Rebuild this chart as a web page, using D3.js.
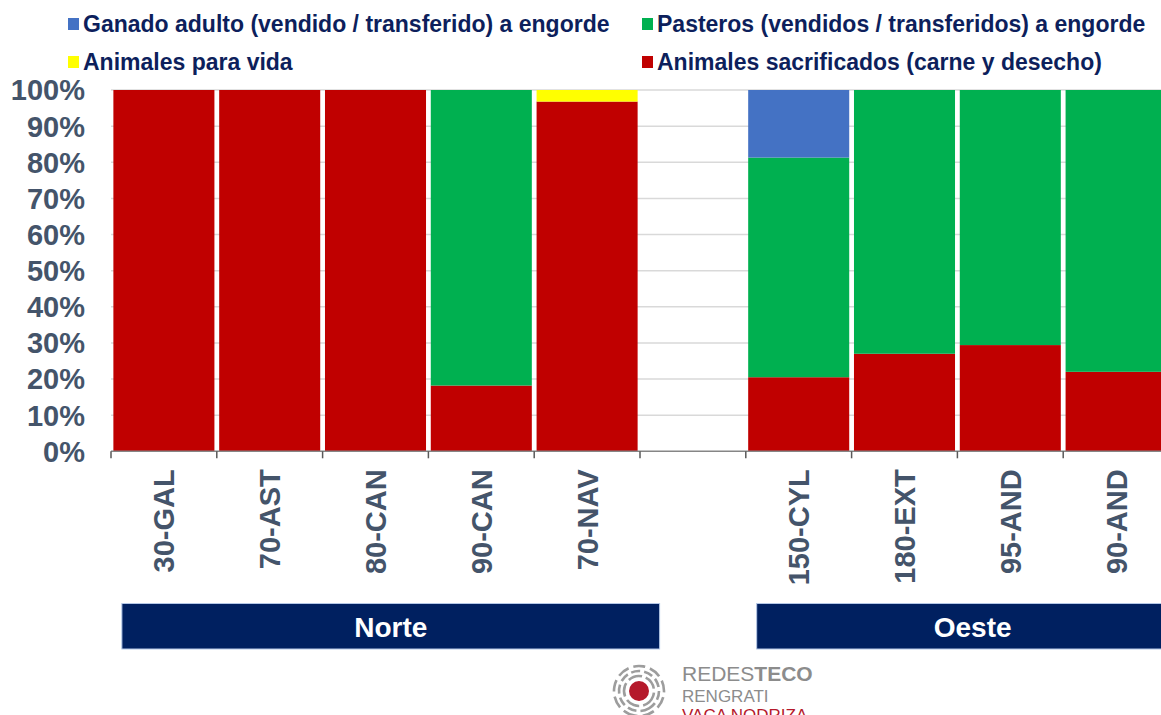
<!DOCTYPE html>
<html>
<head>
<meta charset="utf-8">
<script src="https://cdn.jsdelivr.net/npm/d3@7"></script>
<style>
  body { margin: 0; background: #fff; }
  svg { display: block; font-family: "Liberation Sans", Arial, sans-serif; }
</style>
</head>
<body>
<div id="chart"></div>
<script>
// categories (blank slot separates the two regions)
const categories = ["30-GAL", "70-AST", "80-CAN", "90-CAN", "70-NAV", "", "150-CYL", "180-EXT", "95-AND", "90-AND"];
const slotIds = categories.map((c, i) => "s" + i);

// series, share of animals (%)
const seriesNames = [
    "Animales sacrificados (carne y desecho)",
    "Pasteros (vendidos / transferidos) a engorde",
    "Ganado adulto (vendido / transferido) a engorde",
    "Animales para vida"
];
const sacrificados = [100, 100, 100, 18.2, 96.8, 0, 20.5, 27.0, 29.4, 22.0];
const pasteros     = [0, 0, 0, 81.8, 0, 0, 60.8, 73.0, 70.6, 78.0];
const ganadoAdulto = [0, 0, 0, 0, 0, 0, 18.7, 0, 0, 0];
const paraVida     = [0, 0, 0, 0, 3.2, 0, 0, 0, 0, 0];

const yTicks = [0, 10, 20, 30, 40, 50, 60, 70, 80, 90, 100];

const groups = [
    {name: "Norte", first: 0, last: 4},
    {name: "Oeste", first: 6, last: 9}
];

const colors = {
    "Animales sacrificados (carne y desecho)": "#c00000",
    "Pasteros (vendidos / transferidos) a engorde": "#00b050",
    "Ganado adulto (vendido / transferido) a engorde": "#4472c4",
    "Animales para vida": "#ffff00"
};

const width = 1161, height = 715;
const margin = {top: 90, left: 111, bottom: 264};
const plotRight = 1169;

const svg = d3.select("#chart").append("svg")
    .attr("width", width)
    .attr("height", height);

// stack the data
const table = slotIds.map((id, i) => ({
    id: id,
    "Animales sacrificados (carne y desecho)": sacrificados[i],
    "Pasteros (vendidos / transferidos) a engorde": pasteros[i],
    "Ganado adulto (vendido / transferido) a engorde": ganadoAdulto[i],
    "Animales para vida": paraVida[i]
}));
const stacked = d3.stack().keys(seriesNames)(table);

const x = d3.scaleBand()
    .domain(slotIds)
    .range([margin.left, plotRight])
    .paddingInner(0.045)
    .paddingOuter(0.0225);

const y = d3.scaleLinear()
    .domain([0, 100])
    .range([height - margin.bottom + 0.3, margin.top]);

// gridlines
svg.append("g")
    .selectAll("line")
    .data(yTicks.filter(d => d > 0))
    .join("line")
    .attr("x1", margin.left)
    .attr("x2", plotRight)
    .attr("y1", d => y(d))
    .attr("y2", d => y(d))
    .attr("stroke", "#d9d9d9")
    .attr("stroke-width", 1.5);

// bars
svg.append("g")
    .selectAll("g")
    .data(stacked)
    .join("g")
    .attr("fill", d => colors[d.key])
    .selectAll("rect")
    .data(d => d)
    .join("rect")
    .attr("x", d => x(d.data.id))
    .attr("width", x.bandwidth())
    .attr("y", d => y(d[1]))
    .attr("height", d => y(d[0]) - y(d[1]));

// x axis
const gap = x.step() - x.bandwidth();
const xAxis = d3.axisBottom(x)
    .tickSize(7)
    .tickFormat("");
const gx = svg.append("g")
    .attr("transform", "translate(0," + y(0) + ")")
    .call(xAxis);
gx.select(".domain").attr("stroke", "#868686").attr("stroke-width", 1.5)
    .attr("d", "M" + margin.left + ",0H" + plotRight);
gx.selectAll(".tick")
    .attr("transform", d => "translate(" + (x(d) - gap / 2) + ",0)");
gx.selectAll(".tick line").attr("stroke", "#595959").attr("stroke-width", 1.5);

// category labels, rotated
svg.append("g")
    .selectAll("text")
    .data(slotIds)
    .join("text")
    .attr("transform", d => "translate(" + (x(d) + x.bandwidth() / 2) + "," + (y(0) + 18) + ") rotate(-90)")
    .attr("text-anchor", "end")
    .attr("dy", "0.36em")
    .style("font-size", "29px")
    .style("font-weight", "bold")
    .attr("fill", "#44546a")
    .text((d, i) => categories[i]);

// y axis labels
svg.append("g")
    .selectAll("text")
    .data(yTicks)
    .join("text")
    .attr("x", 85)
    .attr("y", d => y(d))
    .attr("dy", "0.36em")
    .attr("text-anchor", "end")
    .style("font-size", "29px")
    .style("font-weight", "bold")
    .attr("fill", "#44546a")
    .text(d => d + "%");

// region bars
const gBars = svg.append("g")
    .selectAll("g")
    .data(groups)
    .join("g");
const gx0 = d => x(slotIds[d.first]) + 8.5;
const gx1 = d => x(slotIds[d.last]) + x.bandwidth() + 22;
gBars.append("rect")
    .attr("x", gx0)
    .attr("y", 603.5)
    .attr("width", d => gx1(d) - gx0(d))
    .attr("height", 45.5)
    .attr("fill", "#002060")
    .attr("stroke", "#b4c7e7")
    .attr("stroke-width", 1);
gBars.append("text")
    .attr("x", d => (gx0(d) + gx1(d)) / 2)
    .attr("y", 627)
    .attr("dy", "0.36em")
    .attr("text-anchor", "middle")
    .style("font-size", "28px")
    .style("font-weight", "bold")
    .attr("fill", "#fff")
    .text(d => d.name);

// legend
const legendItems = [
    {name: seriesNames[2], x: 68, y: 24},
    {name: seriesNames[1], x: 642, y: 24},
    {name: seriesNames[3], x: 68, y: 62},
    {name: seriesNames[0], x: 642, y: 62}
];
const lg = svg.append("g")
    .selectAll("g")
    .data(legendItems)
    .join("g")
    .attr("transform", d => "translate(" + d.x + "," + d.y + ")");
lg.append("rect")
    .attr("x", 0)
    .attr("y", -6)
    .attr("width", 11)
    .attr("height", 12)
    .attr("fill", d => colors[d.name]);
lg.append("text")
    .attr("x", 15)
    .attr("dy", "0.36em")
    .style("font-size", "23px")
    .style("font-weight", "bold")
    .attr("fill", "#0d1f5c")
    .text(d => d.name);

// logo
const logo = svg.append("g").attr("transform", "translate(639,691)");
[15, 20, 25].forEach((r, i) => {
    logo.append("circle")
        .attr("r", r)
        .attr("fill", "none")
        .attr("stroke", "#9d9d9d")
        .attr("stroke-width", 2.6)
        .attr("stroke-dasharray", i === 0 ? "14 4" : (i === 1 ? "9 4" : "12 5"))
        .attr("transform", "rotate(" + (i * 40 + 20) + ")");
});
logo.append("circle").attr("r", 10).attr("fill", "#b5192b");
const lt = svg.append("text").attr("x", 682).attr("y", 681)
    .style("font-size", "21px").attr("fill", "#8c8c8c");
lt.append("tspan").text("REDES");
lt.append("tspan").style("font-weight", "bold").text("TECO");
svg.append("text").attr("x", 682).attr("y", 702)
    .style("font-size", "17px").attr("fill", "#8c8c8c").text("RENGRATI");
svg.append("text").attr("x", 682).attr("y", 721)
    .style("font-size", "17px").attr("fill", "#b5192b").text("VACA NODRIZA");
</script>
</body>
</html>
